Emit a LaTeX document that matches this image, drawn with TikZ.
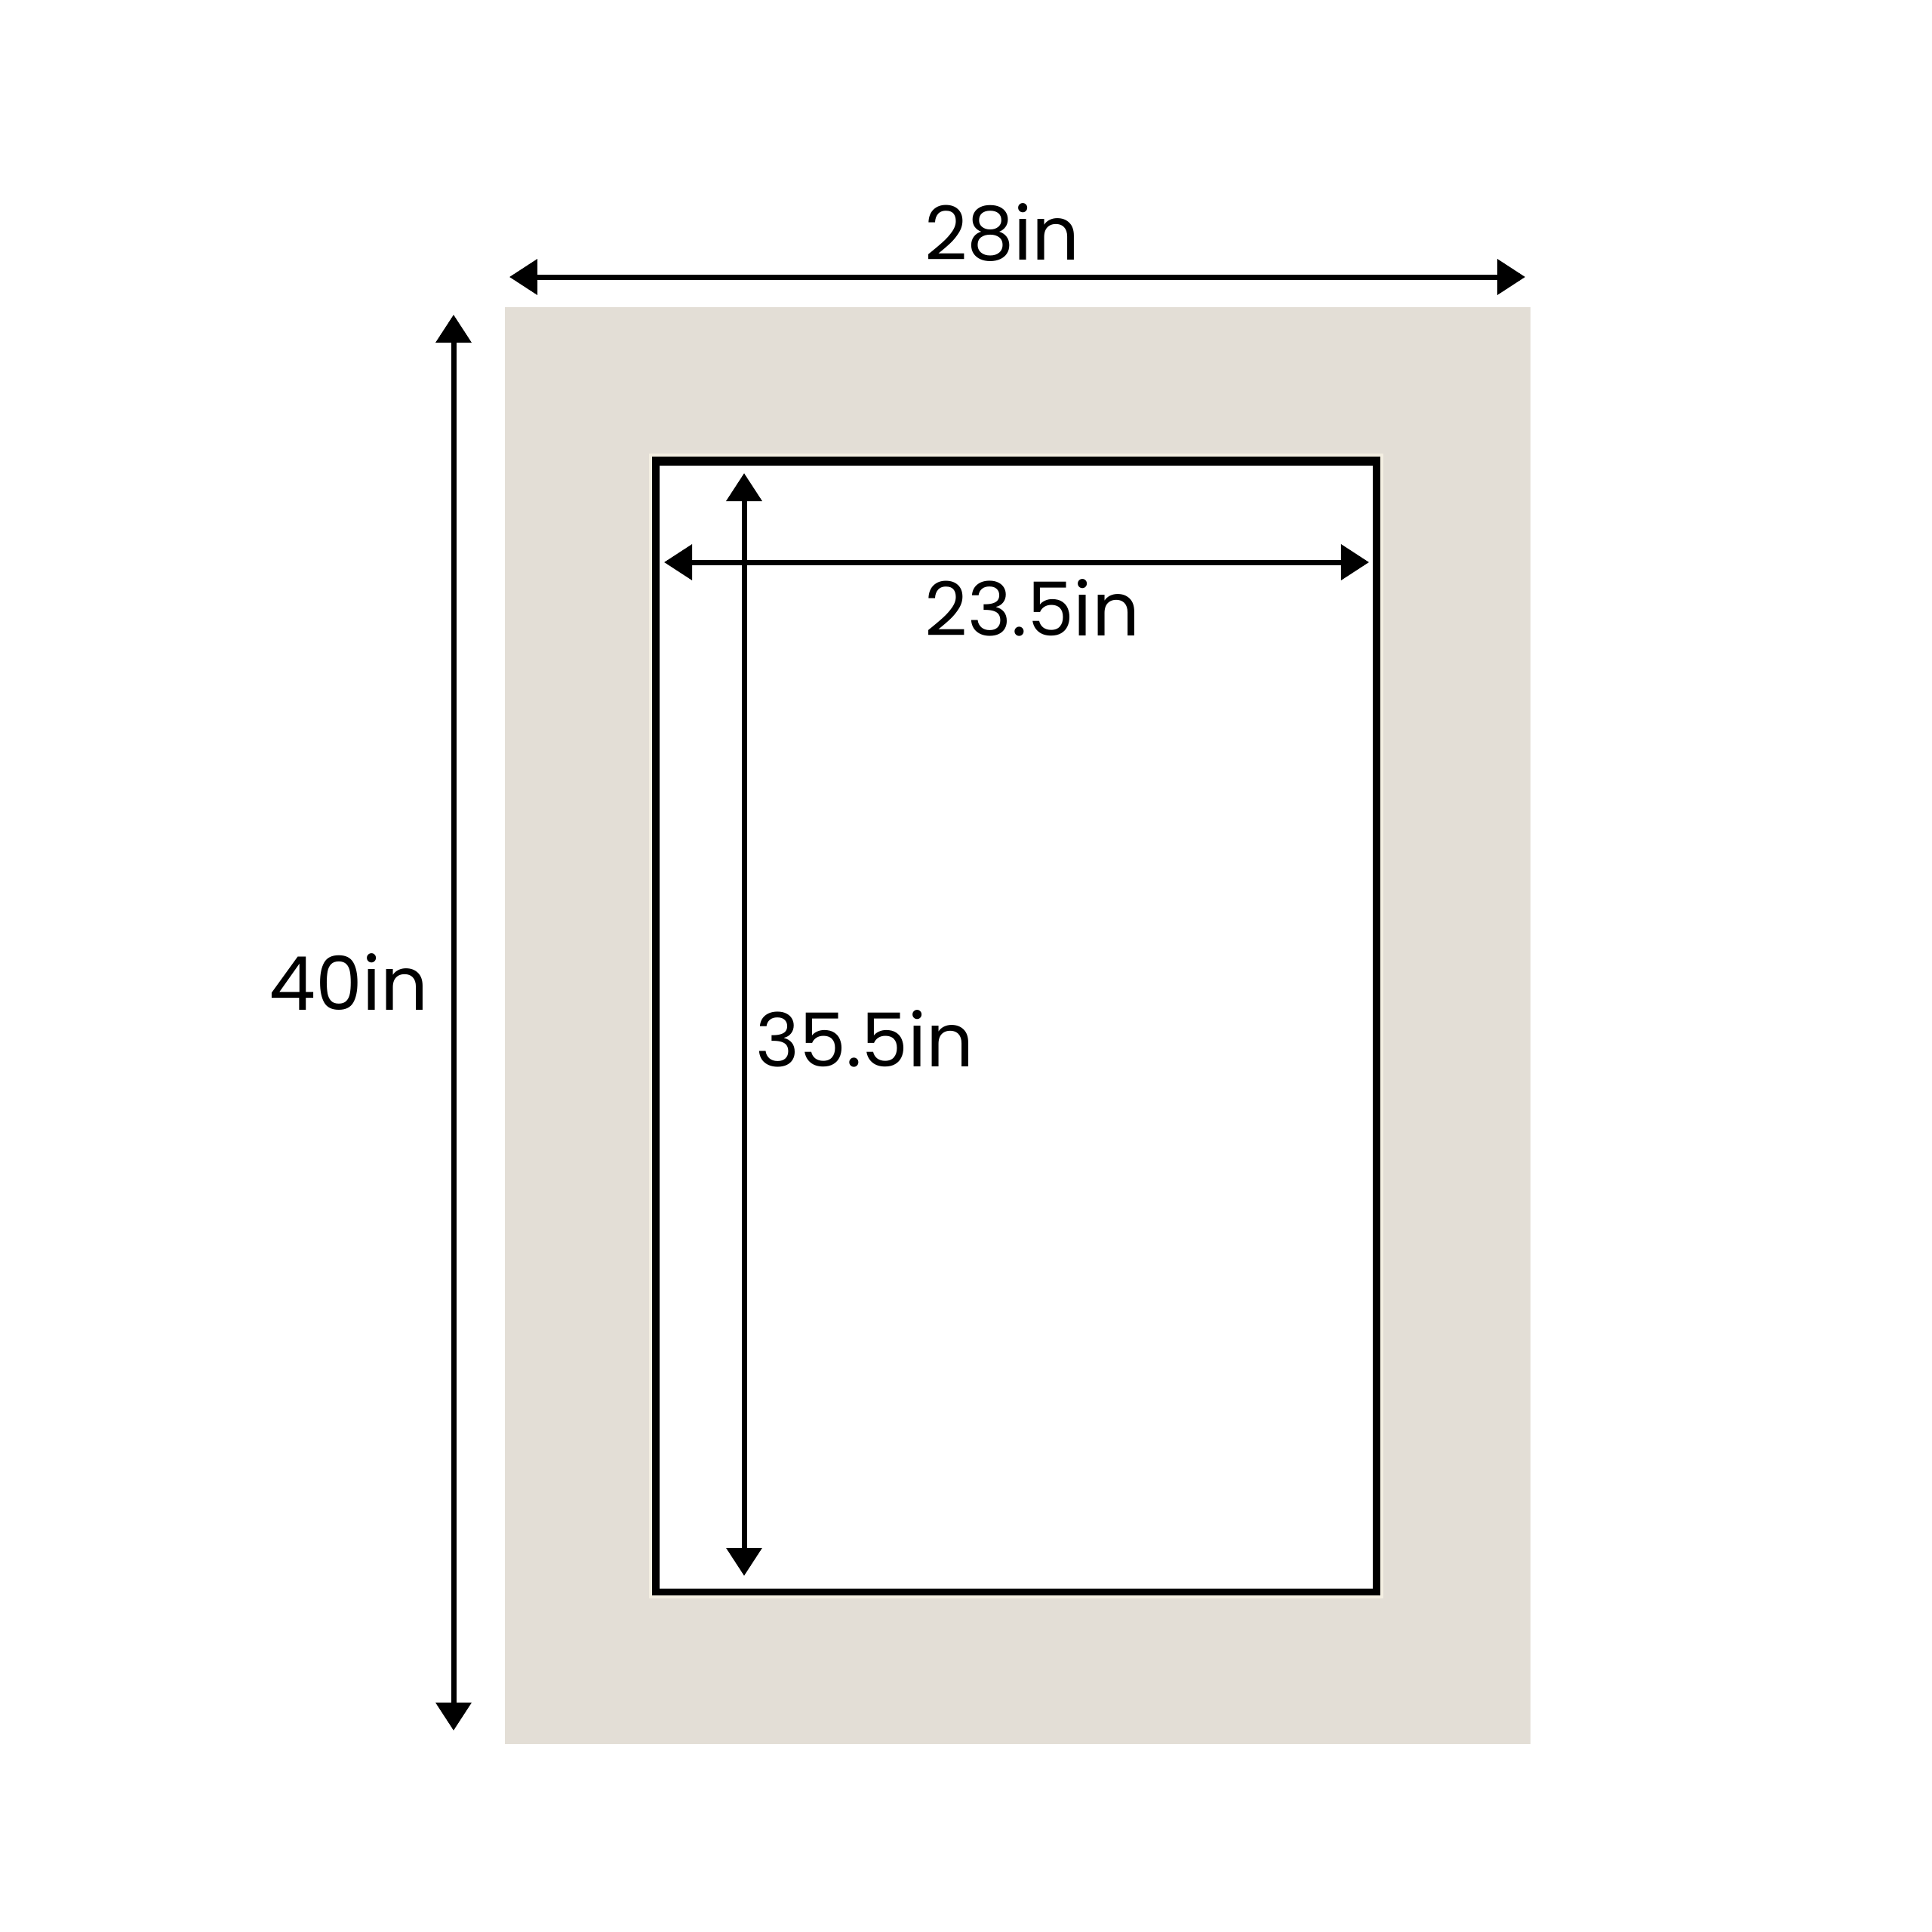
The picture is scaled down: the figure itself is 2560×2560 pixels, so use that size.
\documentclass[tikz,border=0pt]{standalone}
\usepackage{fontspec}
\setmainfont{Poppins}
\usetikzlibrary{arrows.meta}
\definecolor{matcream}{HTML}{E3DED6}
\definecolor{bevel}{HTML}{F4EFE2}
\begin{document}
\begin{tikzpicture}[x=0.01cm, y=-0.01cm,
    mat/.style={fill=matcream, draw=none},
    dim/.style={{Triangle[length=0.37cm,width=0.46cm]}-{Triangle[length=0.37cm,width=0.46cm]}, line width=0.07cm, black},
    label/.style={anchor=base, inner sep=0pt, font=\fontsize{28}{30}\selectfont}]

    \useasboundingbox[fill=white] (0,0) rectangle (2560,2560);

    % mat board and window
    \fill[mat] (669,407) rectangle (2028,2311);
    \fill[bevel] (860,601) rectangle (1833,2118);
    \fill[black] (864,605) rectangle (1829,2114);
    \fill[white] (874,617) rectangle (1819,2105);

    % ends of the dimension lines
    \coordinate (outerL) at (675,367);
    \coordinate (outerR) at (2021,367);
    \coordinate (outerT) at (601,417);
    \coordinate (outerB) at (601,2293);
    \coordinate (innerL) at (880,745);
    \coordinate (innerR) at (1814,745);
    \coordinate (innerT) at (986,627);
    \coordinate (innerB) at (986,2088);

    \node[label] (width) at (1328,344) {28in};
    \node[label] (height) at (462,1338) {40in};
    \node[label] (openwidth) at (1368,842) {23.5in};
    \node[label] (openheight) at (1146,1413) {35.5in};

    \draw[dim] (outerL) -- (outerR);
    \draw[dim] (outerT) -- (outerB);
    \draw[dim] (innerL) -- (innerR);
    \draw[dim] (innerT) -- (innerB);
\end{tikzpicture}
\end{document}
